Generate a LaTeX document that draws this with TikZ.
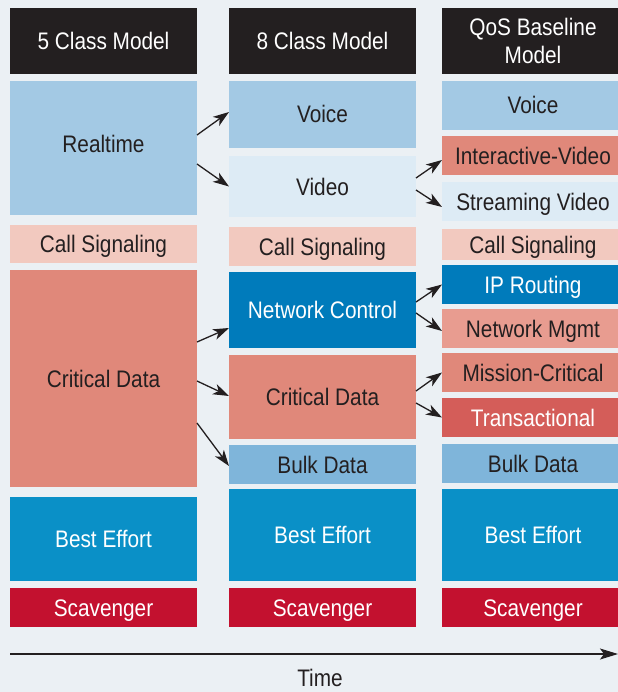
\documentclass[tikz,border=0pt]{standalone}
\usepackage{fontspec}
\setmainfont{Liberation Sans}[FakeStretch=0.87]
\usetikzlibrary{arrows.meta,calc}
\definecolor{bg}{HTML}{EBF0F4}
\definecolor{ink}{HTML}{231F20}
\definecolor{rtblue}{HTML}{A3C9E4}
\definecolor{vidblue}{HTML}{DDEBF5}
\definecolor{sigpink}{HTML}{F2C9BF}
\definecolor{critred}{HTML}{E0887A}
\definecolor{mgmtred}{HTML}{E89C90}
\definecolor{transred}{HTML}{D45D59}
\definecolor{ctrlblue}{HTML}{007BBB}
\definecolor{bulkblue}{HTML}{7FB5DA}
\definecolor{beblue}{HTML}{0A90C7}
\definecolor{scavred}{HTML}{C3112F}

\begin{document}
\begin{tikzpicture}[x=1bp, y=-1bp,
    box/.style={inner sep=0pt, outer sep=0pt, minimum width=187bp, text=ink, align=center,
      text height=17bp, text depth=0pt, font=\fontsize{24}{28}\selectfont},
    wbox/.style={box, text=white},
    qcol/.style={minimum width=182bp},
    arr/.style={-{Stealth[length=16bp,width=11bp,inset=4.5bp]}, line width=1.3bp, draw=ink}]
      \fill[bg] (0,0) rectangle (618,692);
      \useasboundingbox (0,0) rectangle (618,692);

      \node[wbox, fill=ink, minimum height=66bp] (H5) at (103.5,41) {5 Class Model};
      \node[box, fill=rtblue, minimum height=134bp, text depth=9bp] (RT5) at (103.5,148) {Realtime};
      \node[box, fill=sigpink, minimum height=38bp] (CS5) at (103.5,244) {Call Signaling};
      \node[box, fill=critred, minimum height=217bp] (CD5) at (103.5,378.5) {Critical Data};
      \node[wbox, fill=beblue, minimum height=84bp] (BE5) at (103.5,539) {Best Effort};
      \node[wbox, fill=scavred, minimum height=39bp] (SC5) at (103.5,607.5) {Scavenger};

      \node[wbox, fill=ink, minimum height=66bp] (H8) at (322.5,41) {8 Class Model};
      \node[box, fill=rtblue, minimum height=67bp] (VO8) at (322.5,114.5) {Voice};
      \node[box, fill=vidblue, minimum height=61bp] (VI8) at (322.5,186.5) {Video};
      \node[box, fill=sigpink, minimum height=39bp] (CS8) at (322.5,246.5) {Call Signaling};
      \node[wbox, fill=ctrlblue, minimum height=76bp] (NC8) at (322.5,310) {Network Control};
      \node[box, fill=critred, minimum height=84bp] (CD8) at (322.5,397) {Critical Data};
      \node[box, fill=bulkblue, minimum height=39bp] (BD8) at (322.5,464.5) {Bulk Data};
      \node[wbox, fill=beblue, minimum height=92bp] (BE8) at (322.5,535) {Best Effort};
      \node[wbox, fill=scavred, minimum height=39bp] (SC8) at (322.5,607.5) {Scavenger};

      \node[wbox, qcol, fill=ink, minimum height=66bp, text height=45bp] (HQ) at (533,41) {QoS Baseline\\Model};
      \node[box, qcol, fill=rtblue, minimum height=49bp] (VOQ) at (533,105.5) {Voice};
      \node[box, qcol, fill=critred, minimum height=39bp] (IVQ) at (533,155.5) {Interactive-Video};
      \node[box, qcol, fill=vidblue, minimum height=39bp] (SVQ) at (533,201.5) {Streaming Video};
      \node[box, qcol, fill=sigpink, minimum height=31bp] (CSQ) at (533,244.5) {Call Signaling};
      \node[wbox, qcol, fill=ctrlblue, minimum height=39bp] (IPQ) at (533,284.5) {IP Routing};
      \node[box, qcol, fill=mgmtred, minimum height=39bp] (NMQ) at (533,328.5) {Network Mgmt};
      \node[box, qcol, fill=critred, minimum height=39bp] (MCQ) at (533,372.5) {Mission-Critical};
      \node[wbox, qcol, fill=transred, minimum height=39bp] (TRQ) at (533,417.5) {Transactional};
      \node[box, qcol, fill=bulkblue, minimum height=39bp] (BDQ) at (533,463.5) {Bulk Data};
      \node[wbox, qcol, fill=beblue, minimum height=92bp] (BEQ) at (533,535) {Best Effort};
      \node[wbox, qcol, fill=scavred, minimum height=39bp] (SCQ) at (533,607.5) {Scavenger};

      \draw[arr] ($(RT5.east)+(0,-13)$) -- ($(VO8.west)+(0,-2.5)$);
      \draw[arr] ($(RT5.east)+(0,16)$) -- (VI8.west);
      \draw[arr] ($(VI8.east)+(0,-8.5)$) -- ($(IVQ.west)+(0,4.5)$);
      \draw[arr] ($(VI8.east)+(0,3.5)$) -- ($(SVQ.west)+(0,5.5)$);
      \draw[arr] ($(CD5.east)+(0,-36.5)$) -- ($(NC8.west)+(0,18)$);
      \draw[arr] ($(CD5.east)+(0,2.5)$) -- ($(CD8.west)+(0,-1)$);
      \draw[arr] ($(CD5.east)+(0,44.5)$) -- ($(BD8.west)+(0,1.5)$);
      \draw[arr] ($(NC8.east)+(0,-8)$) -- (IPQ.west);
      \draw[arr] ($(NC8.east)+(0,3)$) -- ($(NMQ.west)+(0,2.5)$);
      \draw[arr] ($(CD8.east)+(0,-6)$) -- (MCQ.west);
      \draw[arr] ($(CD8.east)+(0,6)$) -- (TRQ.west);

      \coordinate (T0) at (10,654);
      \coordinate (T1) at (618,654);
      \draw[-{Stealth[length=18bp,width=11bp,inset=4bp]}, line width=1.4bp, draw=ink] (T0) -- (T1);
      \node[box, minimum width=0pt] (TIME) at (320,678) {Time};
\end{tikzpicture}
\end{document}
